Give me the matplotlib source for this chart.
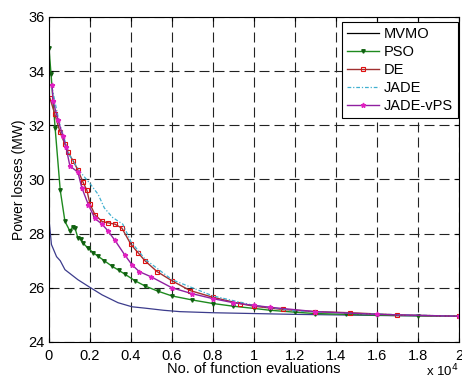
import matplotlib
matplotlib.use("Agg")
import matplotlib.pyplot as plt

plt.rcParams['font.family'] = ['Liberation Sans', 'DejaVu Sans']

# x in units of 1e4 function evaluations
mvmo_x = [0, 0.012, 0.037, 0.055, 0.078, 0.141, 0.195, 0.259, 0.337, 0.405, 0.468, 0.56, 0.64, 0.80, 1.0, 1.2, 1.4, 1.7, 2.0]
mvmo_y = [28.55, 27.6, 27.15, 27.0, 26.67, 26.3, 26.04, 25.74, 25.45, 25.3, 25.25, 25.17, 25.12, 25.08, 25.05, 25.02, 25.0, 24.97, 24.95]

pso_x = [0, 0.01, 0.03, 0.055, 0.078, 0.102, 0.115, 0.127, 0.141, 0.155, 0.166, 0.190, 0.215, 0.239, 0.27, 0.307, 0.34, 0.371, 0.42, 0.468,
         0.53, 0.6, 0.7, 0.8, 0.9, 1.0, 1.08, 1.2, 1.3, 1.45, 1.6, 1.8, 2.0]
pso_y = [34.85, 33.9, 31.9, 29.6, 28.45, 28.1, 28.25, 28.2, 27.85, 27.8, 27.65, 27.47, 27.3, 27.17, 27.0, 26.8, 26.65, 26.5, 26.26, 26.07,
         25.88, 25.7, 25.55, 25.42, 25.32, 25.24, 25.17, 25.1, 25.05, 25.02, 24.99, 24.97, 24.95]

de_x = [0.005, 0.029, 0.054, 0.078, 0.093, 0.117, 0.141, 0.166, 0.185, 0.2, 0.224, 0.259, 0.288, 0.322, 0.356, 0.4, 0.434, 0.468,
        0.527, 0.6, 0.688, 0.8, 0.93, 1.0, 1.14, 1.3, 1.47, 1.7, 2.0]
de_y = [33.0, 32.4, 31.75, 31.3, 31.0, 30.7, 30.35, 29.9, 29.6, 29.1, 28.7, 28.45, 28.4, 28.35, 28.2, 27.6, 27.3, 27.0,
        26.6, 26.26, 25.9, 25.65, 25.42, 25.32, 25.2, 25.12, 25.08, 25.0, 24.95]

jade_x = [0.015, 0.05, 0.1, 0.15, 0.2, 0.24, 0.27, 0.31, 0.36, 0.4, 0.47, 0.6, 0.8, 1.0, 1.2, 1.5, 2.0]
jade_y = [33.4, 32.1, 30.9, 30.3, 29.85, 29.45, 28.95, 28.6, 28.35, 27.7, 27.05, 26.3, 25.7, 25.35, 25.15, 25.05, 24.95]

jvps_x = [0.015, 0.02, 0.044, 0.068, 0.083, 0.102, 0.141, 0.16, 0.192, 0.224, 0.259, 0.288, 0.322, 0.371, 0.405, 0.44, 0.5,
          0.6, 0.7, 0.8, 0.9, 1.0, 1.08, 1.3, 1.6, 2.0]
jvps_y = [33.5, 32.9, 32.2, 31.6, 31.2, 30.5, 30.27, 29.7, 29.07, 28.56, 28.35, 28.1, 27.75, 27.2, 26.85, 26.6, 26.4,
          26.0, 25.78, 25.6, 25.45, 25.35, 25.28, 25.12, 25.02, 24.95]

x_ticks = [0, 0.2, 0.4, 0.6, 0.8, 1, 1.2, 1.4, 1.6, 1.8, 2]
x_labels = ['0', '0.2', '0.4', '0.6', '0.8', '1', '1.2', '1.4', '1.6', '1.8', '2']
y_ticks = [24, 26, 28, 30, 32, 34, 36]

fig = plt.figure(figsize=(4.62, 3.81), dpi=100)
ax = fig.add_axes([0.106, 0.1024, 0.8875, 0.8530])

ax.plot(mvmo_x, mvmo_y, color='#3c3c8c', lw=0.9, label='MVMO')
ax.plot(pso_x, pso_y, color='#1e8a1e', lw=1.0, marker='v', ms=2.5, mfc='#106010', mec='#106010', label='PSO')
ax.plot(de_x, de_y, color='#a03030', lw=1.0, marker='s', ms=3, mfc='none', mec='#e01010', mew=0.8, label='DE')
ax.plot(jade_x, jade_y, color='#40b0d0', lw=0.9, ls=(0, (3, 1.5, 1, 1.5)), label='JADE')
ax.plot(jvps_x, jvps_y, color='#9020a0', lw=1.0, marker='*', ms=3.5, mfc='#e020c0', mec='#e020c0', label='JADE-vPS')

ax.set_xlim(0, 2)
ax.set_ylim(24, 36)
ax.set_xticks(x_ticks)
ax.set_xticklabels(x_labels)
ax.set_yticks(y_ticks)
ax.tick_params(direction='in', labelsize=10.5, length=3, top=True, right=True)
ax.tick_params(axis='x', pad=5)
ax.tick_params(axis='y', pad=3)
ax.grid(True, color='#222222', ls=(0, (9, 4.5)), lw=0.8)
for s in ax.spines.values():
    s.set_linewidth(0.8)

ax.set_xlabel('No. of function evaluations', fontsize=10.5, labelpad=-1)
ax.set_ylabel('Power losses (MW)', fontsize=10, labelpad=2)
fig.text(0.992, 0.004, r'x 10$^4$', ha='right', va='bottom', fontsize=9.5)

leg = ax.legend(loc='upper right', bbox_to_anchor=(0.997, 0.985), fontsize=10.5, fancybox=False,
                edgecolor='black', framealpha=1, handlelength=2.2, handletextpad=0.3,
                labelspacing=0.28, borderpad=0.35, borderaxespad=0)
leg.get_frame().set_linewidth(0.8)
leg.get_lines()[0].set_color('black')

fig.savefig('out.png', dpi=100)
